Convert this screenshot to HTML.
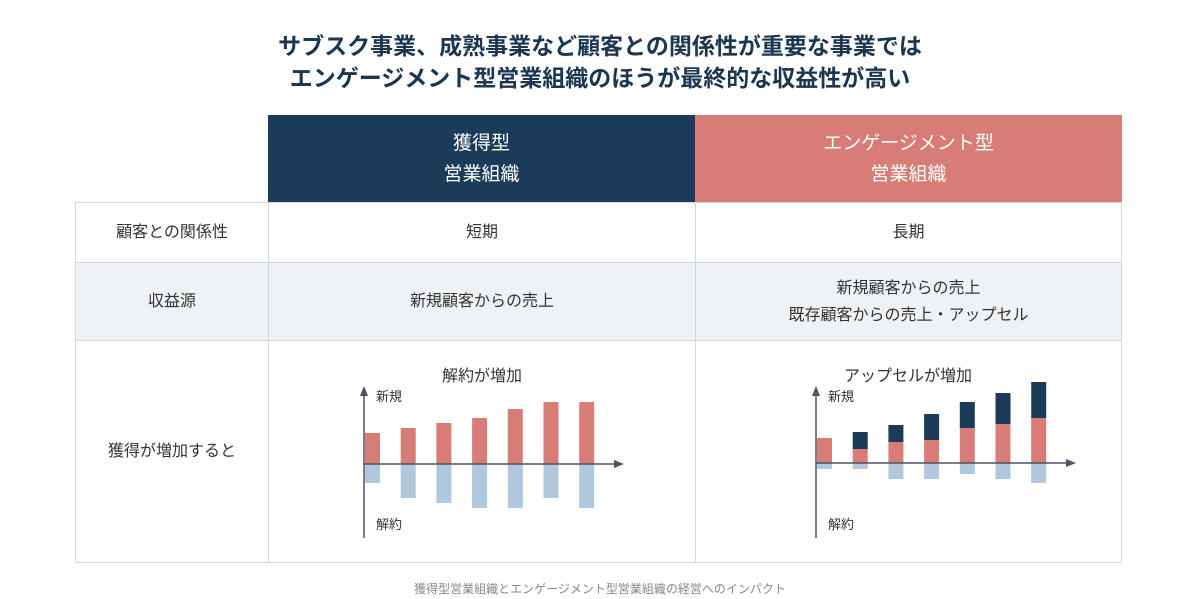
<!DOCTYPE html>
<html><head><meta charset="utf-8"><style>
body{margin:0;width:1200px;height:599px;background:#fff;font-family:"Liberation Sans","Noto Sans CJK JP",sans-serif;position:relative;overflow:hidden}
.t{position:absolute;left:0;width:1200px;text-align:center;font-weight:bold;font-size:23px;color:#1d3650}
.c{position:absolute;display:flex;align-items:center;justify-content:center;text-align:center;box-sizing:border-box;font-size:16px;color:#333;line-height:27px}
.b{border:1px solid #d4d8dd}
</style></head><body>
<div class="t" style="top:27px">サブスク事業、成熟事業など顧客との関係性が重要な事業では</div>
<div class="t" style="top:59px">エンゲージメント型営業組織のほうが最終的な収益性が高い</div>
<div class="c" style="left:268px;top:115px;width:427px;height:87px;background:#1b3b59;color:#fff;font-size:19px;line-height:31px">獲得型<br>営業組織</div>
<div class="c" style="left:695px;top:115px;width:427px;height:87px;background:#d77c77;color:#fff;font-size:19px;line-height:31px">エンゲージメント型<br>営業組織</div>
<div class="c b" style="left:75px;top:202px;width:194px;height:61px">顧客との関係性</div>
<div class="c b" style="left:268px;top:202px;width:428px;height:61px">短期</div>
<div class="c b" style="left:695px;top:202px;width:427px;height:61px">長期</div>
<div class="c b" style="left:75px;top:262px;width:194px;height:79px;background:#eff2f5">収益源</div>
<div class="c b" style="left:268px;top:262px;width:428px;height:79px;background:#eff2f5">新規顧客からの売上</div>
<div class="c b" style="left:695px;top:262px;width:427px;height:79px;background:#eff2f5">新規顧客からの売上<br>既存顧客からの売上・アップセル</div>
<div class="c b" style="left:75px;top:340px;width:194px;height:223px">獲得が増加すると</div>
<div class="c b" style="left:268px;top:340px;width:428px;height:223px"></div>
<div class="c b" style="left:695px;top:340px;width:427px;height:223px"></div>
<div style="position:absolute;top:580px;left:0;width:1200px;text-align:center;font-size:12px;color:#888">獲得型営業組織とエンゲージメント型営業組織の経営へのインパクト</div>
<svg id="s" width="1200" height="599" style="position:absolute;left:0;top:0"></svg>
<script>
const leftNew=[31,36,41,46,55,62,62];
const leftChurn=[19,34,39,44,44,34,44];
const rightNew=[25,14,21,23,35,39,45];
const rightUpsell=[0,17,17,26,26,31,36];
const rightChurn=[6,6,16,16,11,16,20];
const NS='http://www.w3.org/2000/svg';
const svg=document.getElementById('s');
function el(t,a){const e=document.createElementNS(NS,t);for(const k in a)e.setAttribute(k,a[k]);svg.appendChild(e);return e;}
function chart(ax,base,title,tx,news,ups,churn,id){
  const xs=i=>ax+1+i*35.7, y=v=>base-v, w=15;
  let t=el('text',{x:tx,y:381,'text-anchor':'middle','font-size':16,fill:'#333'});t.textContent=title;
  
  news.forEach((v,i)=>{
    let r=el('rect',{x:xs(i),y:y(v),width:w,height:v,fill:'#d77c77'});
    
    if(ups&&ups[i]>0){let u=el('rect',{x:xs(i),y:y(v+ups[i]),width:w,height:ups[i],fill:'#1b3b59'});
      }
    let c=el('rect',{x:xs(i),y:base,width:w,height:churn[i],fill:'#b0c7de'});
    
  });
  el('line',{x1:ax,y1:538,x2:ax,y2:392,stroke:'#4a5564','stroke-width':1.5});
  el('path',{d:`M${ax-4},396 L${ax},386 L${ax+4},396 Z`,fill:'#4a5564'});
  el('line',{x1:ax,y1:base,x2:ax+253,y2:base,stroke:'#4a5564','stroke-width':1.5});
  el('path',{d:`M${ax+250},${base-4} L${ax+260},${base} L${ax+250},${base+4} Z`,fill:'#4a5564'});
  let a=el('text',{x:ax+12,y:401,'font-size':13,fill:'#333'});a.textContent='新規';
  
  let b=el('text',{x:ax+12,y:529,'font-size':13,fill:'#333'});b.textContent='解約';
  
}
chart(364,464,'解約が増加',482,leftNew,null,leftChurn,'left');
chart(816,463,'アップセルが増加',908,rightNew,rightUpsell,rightChurn,'right');
</script>
</body></html>
